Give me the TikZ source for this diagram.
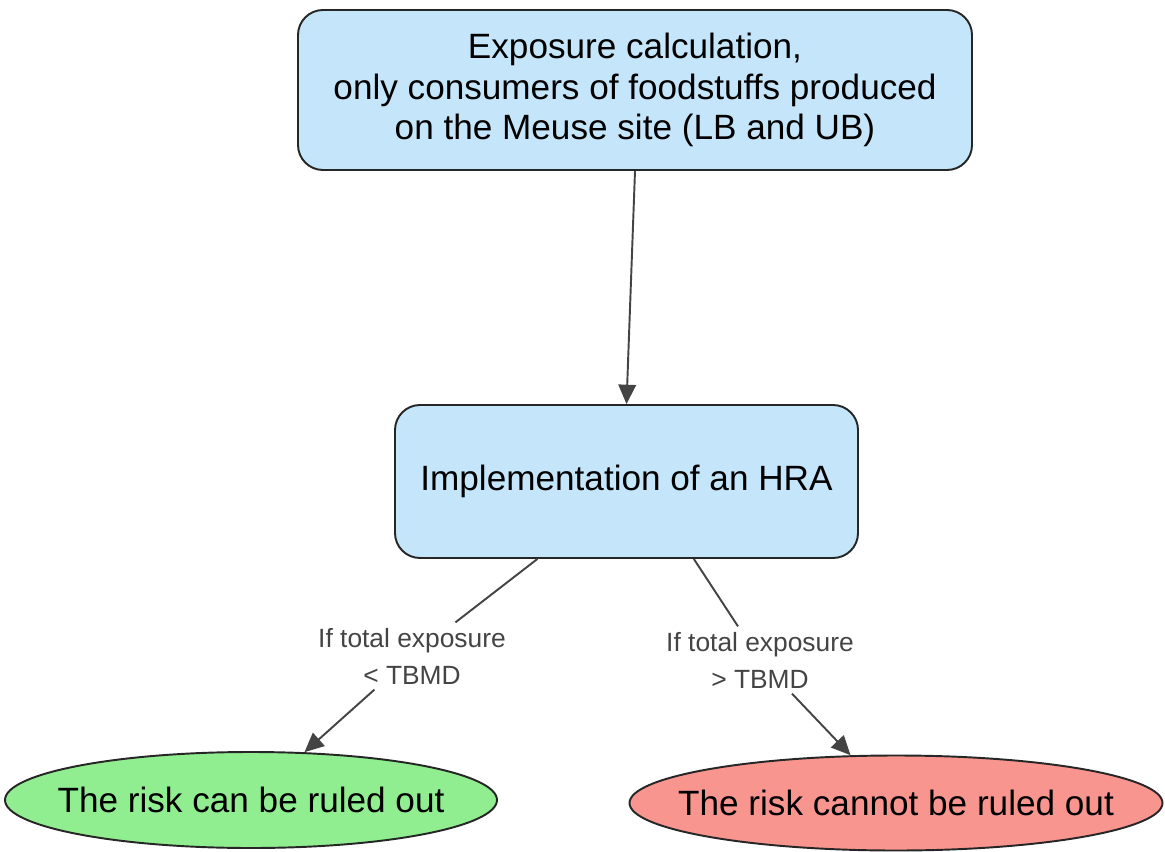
\documentclass[tikz,border=0pt]{standalone}
\usepackage{fontspec}
\setmainfont{Liberation Sans}
\usepackage{xcolor}
\usepackage{tikz}
\usetikzlibrary{positioning,arrows.meta,shapes.geometric}

\definecolor{boxblue}{HTML}{C5E6FA}
\definecolor{okgreen}{HTML}{90EE90}
\definecolor{badred}{HTML}{F8958E}
\definecolor{linegray}{HTML}{444444}

\begin{document}
\begin{tikzpicture}[
                stepbox/.style = {draw=black!85, line width=1.1pt, fill=boxblue, rounded corners=0.5cm,
                    align=center, font=\fontsize{20}{23}\selectfont, inner sep=0pt},
                outcome/.style = {ellipse, draw=black!85, line width=1.1pt, inner sep=0pt,
                    font=\fontsize{20}{24}\selectfont},
                cond/.style = {align=center, text=linegray, font=\fontsize{15}{21}\selectfont, inner sep=3pt},
                conn/.style = {draw=linegray, line width=1.1pt},
                arr/.style = {conn, -{Triangle[length=11pt,width=10pt]}}]
            \useasboundingbox (0,0) rectangle (23.3,-17.04);
            \node[stepbox, minimum width=13.48cm, minimum height=3.2cm] (calc) at (12.7,-1.8)
                {Exposure calculation,\\only consumers of foodstuffs produced\\on the Meuse site (LB and UB)};
            \node[stepbox, minimum width=9.26cm, minimum height=3.06cm] (hra) at (12.53,-9.63)
                {Implementation of an HRA};
            \node[cond] (lowlab) at (8.24,-13.12) {If total exposure\\< TBMD};
            \node[cond] (highlab) at (15.2,-13.2) {If total exposure\\> TBMD};
            \node[outcome, fill=okgreen, minimum width=9.84cm, minimum height=1.92cm] (safe) at (5.02,-16.0)
                {\makebox[0pt]{The risk can be ruled out}};
            \node[outcome, fill=badred, minimum width=10.66cm, minimum height=1.9cm] (risk) at (17.92,-16.06)
                {\makebox[0pt]{The risk cannot be ruled out}};
            \draw[arr] (calc.south) -- (hra.north);
            \draw[conn] (hra.221) -- (lowlab);
            \draw[arr] (lowlab) -- (safe);
            \draw[conn] (hra.311) -- (highlab);
            \draw[arr] (highlab) -- (risk);
            \end{tikzpicture}
\end{document}
